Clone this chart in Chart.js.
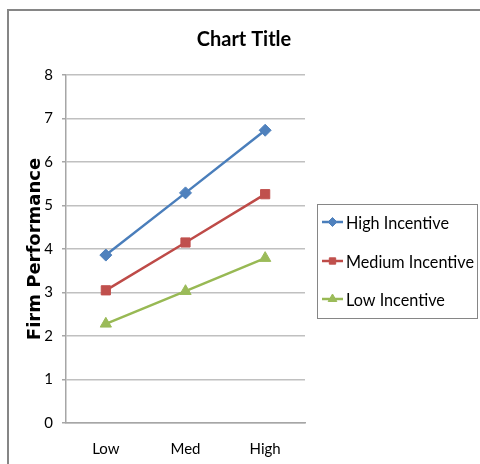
<!DOCTYPE html>
<html lang="en">
<head>
    <meta charset="UTF-8">
    <title>Chart Title</title>
    <script src="https://cdn.jsdelivr.net/npm/chart.js"></script>
    <style>
        body {
            margin: 0;
            background: #fff;
        }
        .chart-container {
            width: 480px;
            height: 464px;
            position: relative;
        }
    </style>
</head>
<body>
    <div class="chart-container">
        <canvas id="lineChart"></canvas>
    </div>

    <script>
        const categories = ['Low', 'Med', 'High'];
        const highIncentive = [3.86, 5.29, 6.73];
        const mediumIncentive = [3.05, 4.15, 5.26];
        const lowIncentive = [2.28, 3.03, 3.79];
        const yTicks = [0, 1, 2, 3, 4, 5, 6, 7, 8];

        const baseFont = 'Lato, "Liberation Sans", sans-serif';

        // marco del grafico (solo arriba e izquierda, como en el original)
        const framePlugin = {
            id: 'frame',
            beforeDraw(chart) {
                const ctx = chart.ctx;
                ctx.save();
                ctx.fillStyle = '#fff';
                ctx.fillRect(0, 0, chart.width, chart.height);
                ctx.strokeStyle = '#868686';
                ctx.lineWidth = 2;
                ctx.beginPath();
                ctx.moveTo(8, chart.height);
                ctx.lineTo(8, 10);
                ctx.lineTo(chart.width, 10);
                ctx.stroke();
                ctx.restore();
            }
        };

        // leyenda con linea + marcador, dentro de un recuadro
        const legendBoxPlugin = {
            id: 'legendBox',
            afterDraw(chart) {
                const ctx = chart.ctx;
                const box = { x: 317, y: 204, w: 160, h: 114 };
                ctx.save();
                ctx.strokeStyle = '#868686';
                ctx.lineWidth = 1;
                ctx.strokeRect(box.x + 0.5, box.y + 0.5, box.w, box.h);

                // letra algo estrecha, como Calibri
                ctx.font = '18px ' + baseFont;
                const w = ctx.measureText('Medium Incentive').width;
                const sx = Math.min(1, 128 / w);

                const rows = [222, 261, 299];
                chart.data.datasets.forEach((ds, i) => {
                    const y = rows[i];
                    ctx.strokeStyle = ds.borderColor;
                    ctx.lineWidth = 2.5;
                    ctx.beginPath();
                    ctx.moveTo(322, y);
                    ctx.lineTo(343, y);
                    ctx.stroke();
                    ctx.fillStyle = ds.pointBackgroundColor;
                    ctx.strokeStyle = ds.pointBorderColor;
                    ctx.lineWidth = 1;
                    Chart.helpers.drawPoint(ctx, {
                        pointStyle: ds.pointStyle,
                        radius: ds.pointStyle === 'triangle' ? 5 : 4.5,
                        borderWidth: 1
                    }, 332.5, y);

                    ctx.save();
                    ctx.translate(346, y + 1);
                    ctx.scale(sx, 1);
                    ctx.fillStyle = '#000';
                    ctx.textBaseline = 'middle';
                    ctx.textAlign = 'left';
                    ctx.fillText(ds.label, 0, 0);
                    ctx.restore();
                });
                ctx.restore();
            }
        };

        const ctx = document.getElementById('lineChart').getContext('2d');
        const lineChart = new Chart(ctx, {
            type: 'line',
            data: {
                labels: categories,
                datasets: [
                    {
                        label: 'High Incentive',
                        data: highIncentive,
                        borderColor: '#4A7EBB',
                        pointBackgroundColor: '#4F81BD',
                        pointBorderColor: '#4F81BD',
                        pointStyle: 'rectRot',
                        pointRadius: 6
                    },
                    {
                        label: 'Medium Incentive',
                        data: mediumIncentive,
                        borderColor: '#BE4B48',
                        pointBackgroundColor: '#C0504D',
                        pointBorderColor: '#C0504D',
                        pointStyle: 'rect',
                        pointRadius: 6.5
                    },
                    {
                        label: 'Low Incentive',
                        data: lowIncentive,
                        borderColor: '#98B954',
                        pointBackgroundColor: '#9BBB59',
                        pointBorderColor: '#9BBB59',
                        pointStyle: 'triangle',
                        pointRadius: 6.5
                    }
                ]
            },
            options: {
                responsive: true,
                maintainAspectRatio: false,
                animation: false,
                elements: {
                    line: { borderWidth: 2.5, tension: 0 },
                    point: { borderWidth: 1 }
                },
                layout: {
                    padding: { top: 0, left: 8, right: 0, bottom: 0 }
                },
                plugins: {
                    legend: { display: false },
                    tooltip: { enabled: false },
                    title: {
                        display: true,
                        text: 'Chart Title',
                        color: '#000',
                        font: { family: baseFont, size: 20, weight: 'bold' },
                        padding: { top: 28, bottom: 23 }
                    }
                },
                scales: {
                    x: {
                        offset: true,
                        grid: { display: false },
                        border: { display: true, color: '#a6a6a6', width: 1.5 },
                        ticks: {
                            color: '#000',
                            padding: 9,
                            font: { family: baseFont, size: 15 }
                        },
                        afterFit(scale) { scale.height = 41; }
                    },
                    y: {
                        min: 0,
                        max: 8,
                        afterBuildTicks(scale) {
                            scale.ticks = yTicks.map(v => ({ value: v }));
                        },
                        grid: {
                            color: '#c0c0c0',
                            lineWidth: 1.5,
                            tickLength: 4,
                            tickColor: '#a6a6a6'
                        },
                        border: { display: true, color: '#a6a6a6', width: 1.5 },
                        ticks: {
                            color: '#000',
                            padding: 9,
                            font: { family: baseFont, size: 15 }
                        },
                        title: {
                            display: true,
                            text: 'Firm Performance',
                            color: '#000',
                            font: { family: '"DejaVu Sans", sans-serif', size: 18, weight: 'bold' },
                            padding: { top: 17, bottom: 0 }
                        },
                        afterFit(scale) { scale.width = 58; }
                    },
                    // eje vacio a la derecha: deja sitio para la leyenda
                    spacer: {
                        type: 'linear',
                        position: 'right',
                        grid: { display: false },
                        border: { display: false },
                        ticks: { display: false },
                        afterFit(scale) { scale.width = 175; }
                    }
                }
            },
            plugins: [framePlugin, legendBoxPlugin]
        });
    </script>
</body>
</html>
